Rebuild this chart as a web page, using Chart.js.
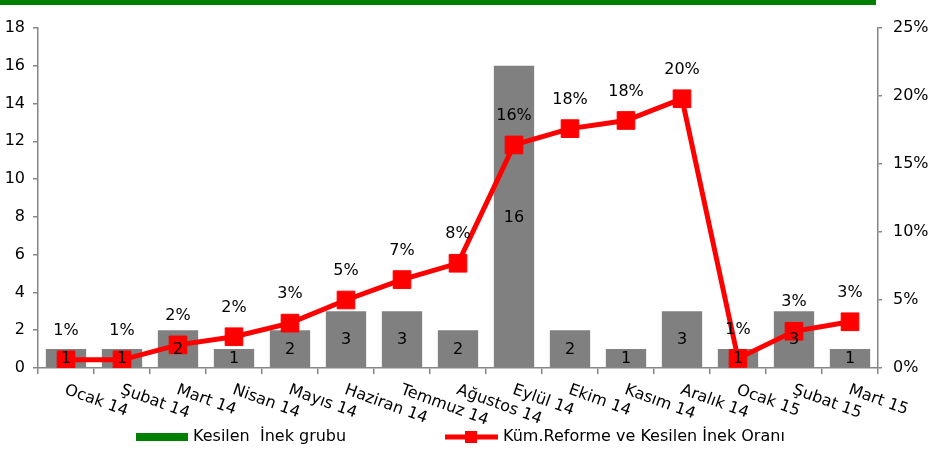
<!DOCTYPE html>
<html lang="tr">
<head>
    <meta charset="UTF-8">
    <title>Kesilen İnek Grubu</title>
    <script src="https://cdn.jsdelivr.net/npm/chart.js"></script>
    <style>
        body {
            margin: 0;
            background: #fff;
            font-family: 'DejaVu Sans', Verdana, sans-serif;
        }
        .wrap {
            position: relative;
            width: 935px;
            height: 453px;
        }
        .topline {
            position: absolute;
            left: 0;
            top: 0;
            width: 876px;
            height: 5px;
            background: #008000;
        }
    </style>
</head>
<body>
<div class="wrap">
    <div class="topline"></div>
    <canvas id="chart" width="935" height="453"></canvas>
</div>

<script>
    const months = ['Ocak 14', 'Şubat 14', 'Mart 14', 'Nisan 14', 'Mayıs 14', 'Haziran 14', 'Temmuz 14',
        'Ağustos 14', 'Eylül 14', 'Ekim 14', 'Kasım 14', 'Aralık 14', 'Ocak 15', 'Şubat 15', 'Mart 15'];
    const culledCows = [1, 1, 2, 1, 2, 3, 3, 2, 16, 2, 1, 3, 1, 3, 1];
    const cumRatio = [0.6, 0.6, 1.7, 2.3, 3.3, 5.0, 6.5, 7.7, 16.4, 17.6, 18.2, 19.8, 0.7, 2.7, 3.4];
    const leftTicks = [0, 2, 4, 6, 8, 10, 12, 14, 16, 18];
    const rightTicks = [0, 5, 10, 15, 20, 25];

    const FONT = "'DejaVu Sans', Verdana, sans-serif";
    const axisGray = '#868686';

    // value labels, rotated month names and the legend
    const extras = {
        id: 'extras',
        afterDatasetsDraw(chart) {
            const ctx = chart.ctx;
            ctx.save();
            ctx.font = '16px ' + FONT;
            ctx.fillStyle = '#000';
            ctx.textAlign = 'center';
            ctx.textBaseline = 'middle';

            chart.getDatasetMeta(1).data.forEach((bar, i) => {
                ctx.fillText(culledCows[i], bar.x, (bar.y + bar.base) / 2 + 1);
            });
            chart.getDatasetMeta(0).data.forEach((pt, i) => {
                ctx.fillText(Math.round(cumRatio[i]) + '%', pt.x, pt.y - 29);
            });
            ctx.restore();
        },
        afterDraw(chart) {
            const ctx = chart.ctx;
            const xs = chart.scales.x;
            ctx.save();
            ctx.font = '16px ' + FONT;
            ctx.fillStyle = '#000';
            ctx.textAlign = 'left';
            ctx.textBaseline = 'top';
            months.forEach((m, i) => {
                ctx.save();
                ctx.translate(xs.getPixelForValue(i) + 2, xs.top + 14);
                ctx.rotate(20 * Math.PI / 180);
                ctx.fillText(m, 0, 0);
                ctx.restore();
            });

            // legend
            const ly = 437;
            ctx.textBaseline = 'middle';
            ctx.fillStyle = '#008000';
            ctx.fillRect(136, ly - 4, 52, 8);
            ctx.fillStyle = '#000';
            ctx.fillText(chart.data.datasets[1].label, 193, ly);

            ctx.strokeStyle = '#ff0000';
            ctx.lineWidth = 5;
            ctx.beginPath();
            ctx.moveTo(445, ly);
            ctx.lineTo(498, ly);
            ctx.stroke();
            ctx.fillStyle = '#ff0000';
            ctx.fillRect(465, ly - 6, 12, 12);
            ctx.fillStyle = '#000';
            ctx.fillText(chart.data.datasets[0].label, 503, ly);
            ctx.restore();
        }
    };

    new Chart(document.getElementById('chart'), {
        type: 'bar',
        data: {
            labels: months,
            datasets: [{
                type: 'line',
                label: 'Küm.Reforme ve Kesilen İnek Oranı',
                data: cumRatio,
                yAxisID: 'y1',
                borderColor: '#ff0000',
                backgroundColor: '#ff0000',
                borderWidth: 5,
                pointStyle: 'rect',
                pointRadius: 12.5,
                pointBorderWidth: 1,
                tension: 0,
                order: 1
            }, {
                label: 'Kesilen  İnek grubu',
                data: culledCows,
                yAxisID: 'y',
                backgroundColor: '#808080',
                categoryPercentage: 1,
                barPercentage: 0.72,
                order: 2
            }]
        },
        options: {
            responsive: false,
            animation: false,
            layout: { padding: { top: 28, left: 0, right: 0, bottom: 0 } },
            plugins: {
                legend: { display: false },
                tooltip: { enabled: false }
            },
            scales: {
                x: {
                    offset: true,
                    grid: { drawOnChartArea: false, offset: true, tickLength: 6, color: axisGray, lineWidth: 1.5 },
                    border: { color: axisGray, width: 1.5 },
                    ticks: { display: false },
                    afterFit: s => { s.height = 85; }
                },
                y: {
                    position: 'left',
                    min: 0,
                    max: 18,
                    afterBuildTicks: s => { s.ticks = leftTicks.map(v => ({ value: v })); },
                    grid: { drawOnChartArea: false, tickLength: 5, color: axisGray, lineWidth: 1.5 },
                    border: { color: axisGray, width: 1.5 },
                    ticks: { color: '#000', font: { family: FONT, size: 16 }, padding: 8 },
                    afterFit: s => { s.width = 38; }
                },
                y1: {
                    position: 'right',
                    min: 0,
                    max: 25,
                    afterBuildTicks: s => { s.ticks = rightTicks.map(v => ({ value: v })); },
                    grid: { drawOnChartArea: false, tickLength: 4, color: axisGray, lineWidth: 1.5 },
                    border: { color: axisGray, width: 1.5 },
                    ticks: { color: '#000', font: { family: FONT, size: 16 }, padding: 11, callback: v => v + '%' },
                    afterFit: s => { s.width = 57; }
                }
            }
        },
        plugins: [extras]
    });
</script>
</body>
</html>
